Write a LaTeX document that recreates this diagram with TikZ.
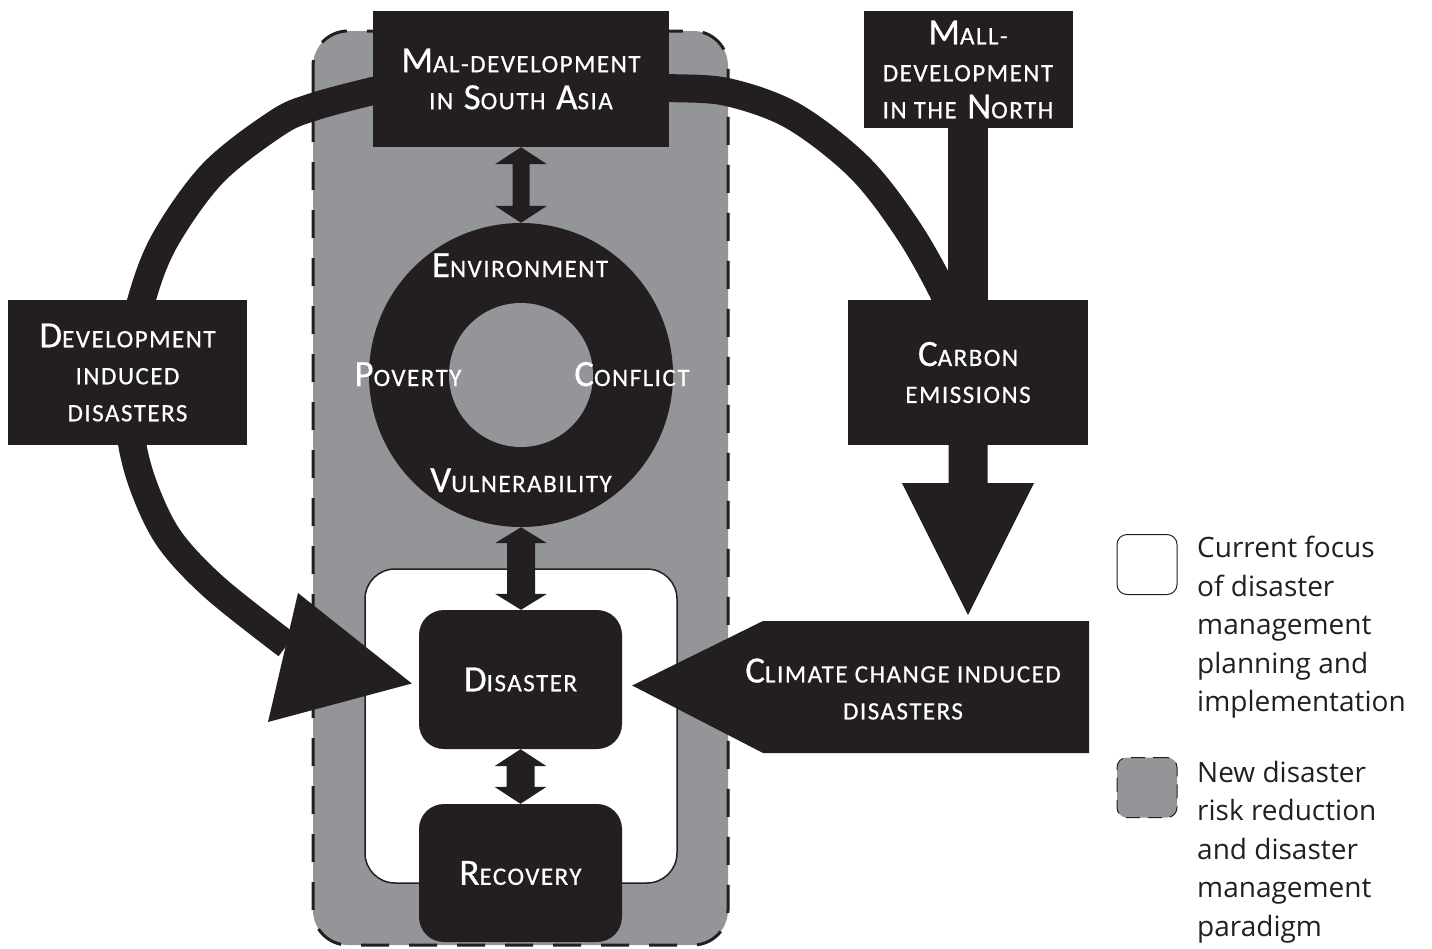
\documentclass[tikz,border=0pt]{standalone}
\usepackage{fontspec}
\setmainfont{Open Sans}
\newfontfamily\labfont[LetterSpace=6,FakeBold=0.6]{Carlito}
\newfontfamily\legfont{Open Sans}
\usetikzlibrary{calc}
\definecolor{blk}{HTML}{231F20}
\definecolor{gry}{HTML}{939598}
\newcommand\sm[1]{{\fontsize{25}{37}\selectfont #1}}
% vertical double arrow: #1 top anchor, #2 bottom anchor, #3 half shaft, #4 half head, #5 head length
\newcommand\vdarr[5]{\fill[blk] let \p1=(#1), \p2=(#2) in
  (\x1,\y1) -- (\x1+#4,\y1-#5) -- (\x1+#3,\y1-#5) -- (\x1+#3,\y2+#5) -- (\x1+#4,\y2+#5)
  -- (\x1,\y2) -- (\x1-#4,\y2+#5) -- (\x1-#3,\y2+#5) -- (\x1-#3,\y1-#5) -- (\x1-#4,\y1-#5) -- cycle;}
\begin{document}
\begin{tikzpicture}[x=1pt,y=-1pt,
  blkbox/.style={fill=blk, inner sep=0pt, text=white, align=center, font=\labfont\fontsize{37}{37}\selectfont},
  lab/.style={text=white, inner sep=0pt, align=center, font=\labfont\fontsize{37}{37}\selectfont},
  band/.style={draw=blk, line width=28pt},
  leg/.style={font=\legfont\fontsize{28}{38.5}\selectfont, align=left, anchor=north west, inner sep=0pt, text=blk}]

\useasboundingbox (0,0) rectangle (1432,948);
\fill[white] (0,0) rectangle (1432,948);

% new paradigm region (grey, dashed)
\draw[fill=gry, draw=blk, line width=3pt, dash pattern=on 28pt off 20pt, rounded corners=35pt] (313,31) rectangle (728,945);
% current focus region (white)
\draw[fill=white, draw=blk, line width=1.5pt, rounded corners=30pt] (365,569) rectangle (677,883);

% big curved bands
\draw[band] plot[smooth, tension=0.55] coordinates {(395,88) (373,91) (313,107) (277,123) (213,173) (165,240) (141.5,300) (127,372) (131.5,440) (145,490) (170,540) (215,588) (287,645)};
\draw[band] plot[smooth, tension=0.55] coordinates {(650,87) (669,88) (727,92) (793,116) (860,168) (910,233) (947,300) (955,330)};

% ring
\node[circle, fill=blk, minimum size=304pt, inner sep=0pt] (ring) at (521,375) {};
\node[circle, fill=gry, minimum size=144pt, inner sep=0pt] (hole) at (521,375) {};

% boxes
\node[blkbox, minimum width=296pt, minimum height=136pt] (maldev) at (521,79)
  {M\sm{AL-DEVELOPMENT}\\\sm{IN} S\sm{OUTH} A\sm{SIA}};
\node[blkbox, minimum width=209pt, minimum height=117pt] (north) at (968,69.5)
  {M\sm{ALL-}\\\sm{DEVELOPMENT}\\\sm{IN THE} N\sm{ORTH}};
\node[blkbox, minimum width=240pt, minimum height=145pt] (carbon) at (968,372.5)
  {C\sm{ARBON}\\\sm{EMISSIONS}};
\node[blkbox, minimum width=239pt, minimum height=145pt] (devind) at (127.5,372.5)
  {D\sm{EVELOPMENT}\\\sm{INDUCED}\\\sm{DISASTERS}};
\node[blkbox, rounded corners=25pt, minimum width=203pt, minimum height=139pt] (disaster) at (520.5,679.5)
  {D\sm{ISASTER}};
\node[blkbox, rounded corners=25pt, minimum width=203pt, minimum height=138pt] (recovery) at (520.5,873)
  {R\sm{ECOVERY}};

% shaft from the North box into carbon emissions
\draw[blk, line width=40pt] (north.south) -- (carbon.north);

% double arrows
\vdarr{maldev.south}{ring.north}{8.5pt}{26pt}{17pt}
\vdarr{ring.south}{disaster.north}{14pt}{26pt}{16pt}
\vdarr{disaster.south}{recovery.north}{14pt}{26pt}{17pt}

% arrow head of development induced disasters band
\coordinate (devtip) at ($(disaster.west)+(-7,4)$);
\fill[blk] (298,593) -- (devtip) -- (268,722) -- cycle;

% carbon emissions arrow
\fill[blk] let \p1=(carbon.south) in (\x1-19.5pt,\y1) -- (\x1+19.5pt,\y1) -- (\x1+19.5pt,\y1-38pt)
  -- (\x1+66pt,\y1-38pt) -- (\x1,\y1-170pt) -- (\x1-66pt,\y1-38pt) -- (\x1-19.5pt,\y1-38pt) -- cycle;

% climate change arrow
\coordinate (cctip) at ($(disaster.east)+(10,6)$);
\fill[blk] (cctip) -- (763,621) -- (1089,621) -- (1089,753) -- (763,753) -- cycle;
\node[lab] (climate) at (903,689) {C\sm{LIMATE CHANGE INDUCED}\\\sm{DISASTERS}};

% ring labels
\node[lab, anchor=base] (env) at (520,277) {E\sm{NVIRONMENT}};
\node[lab, anchor=base] (pov) at (408,386) {P\sm{OVERTY}};
\node[lab, anchor=base] (con) at (632,386) {C\sm{ONFLICT}};
\node[lab, anchor=base] (vul) at (521,492) {V\sm{ULNERABILITY}};

% legend
\node[draw=blk, line width=1pt, fill=white, rounded corners=10pt, minimum size=60pt, inner sep=0pt] (legA) at (1147,564.5) {};
\node[draw=blk, line width=1pt, fill=gry, rounded corners=10pt, dash pattern=on 14pt off 8pt, minimum size=60pt, inner sep=0pt] (legB) at (1147,787.5) {};
\node[leg] (legAt) at (1197,535.5) {\rule{0pt}{22pt}Current focus\\of disaster\\management\\planning and\\implementation};
\node[leg] (legBt) at (1197,760) {\rule{0pt}{22pt}New disaster\\risk reduction\\and disaster\\management\\paradigm};
\end{tikzpicture}
\end{document}
